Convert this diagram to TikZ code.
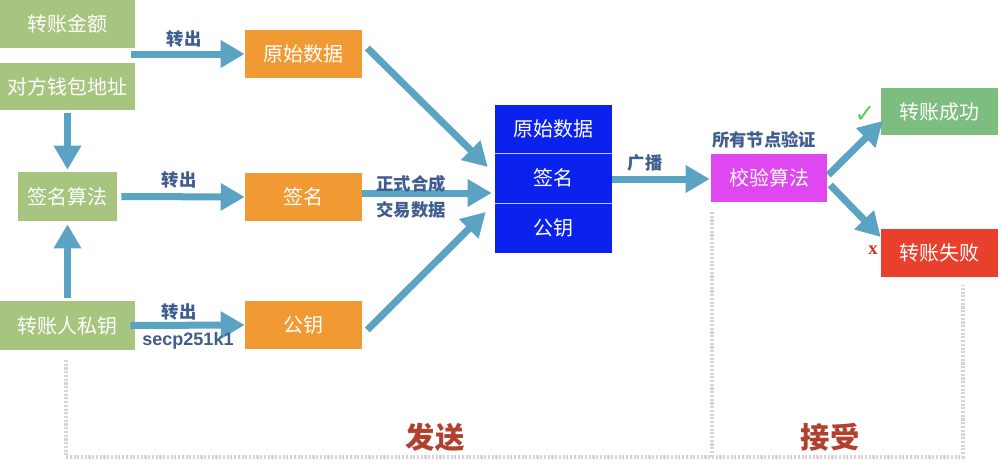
\documentclass[tikz,border=0pt]{standalone}
\usepackage{fontspec}
\setmainfont{Noto Sans CJK SC}
\newfontfamily\lat{Liberation Sans}
\newfontfamily\serifx{Liberation Serif}
\newfontfamily\sym{DejaVu Sans}
\usetikzlibrary{arrows.meta,calc}
\definecolor{gbox}{HTML}{A8C580}
\definecolor{okc}{HTML}{7DBE80}
\definecolor{obox}{HTML}{F19A33}
\definecolor{bbox}{HTML}{0B22EE}
\definecolor{mbox}{HTML}{DF47F0}
\definecolor{rbox}{HTML}{E8402C}
\definecolor{arrc}{HTML}{5AA3C3}
\definecolor{lblc}{HTML}{3F5D8E}
\definecolor{secc}{HTML}{B2402F}
\definecolor{dotc}{HTML}{D6D3DF}
\tikzset{
  box/.style={inner sep=0pt, text=white, font=\fontsize{15}{18}\selectfont},
  gb/.style={box, fill=gbox},
  ob/.style={box, fill=obox},
  bb/.style={box, fill=bbox},
  arr/.style={draw=arrc, line width=5.25pt, -{Triangle[length=18pt,width=19.5pt]}},
  lbl/.style={inner sep=0pt, text=lblc, font=\bfseries\fontsize{13}{15}\selectfont},
  frame/.style={draw=dotc, line width=2.4pt, dash pattern=on 1.6pt off 1.2pt},
}
\begin{document}
\begin{tikzpicture}[x=0.75pt,y=-0.75pt]
\useasboundingbox[fill=white] (0,0) rectangle (1000,468);
% dotted frame
\draw[frame] (66,360) -- (66,457) -- (963,457) -- (963,285);
\draw[frame] (712,212) -- (712,457);
% left boxes
\node[gb, minimum width=135*0.75pt, minimum height=48*0.75pt] (amt) at (67.5,24) {转账金额};
\node[gb, minimum width=135*0.75pt, minimum height=47*0.75pt] (addr) at (67.5,86.5) {对方钱包地址};
\node[gb, minimum width=99*0.75pt, minimum height=49*0.75pt] (alg) at (67.5,196.5) {签名算法};
\node[gb, minimum width=135*0.75pt, minimum height=49*0.75pt] (priv) at (67.5,325.5) {转账人私钥};
% orange boxes
\node[ob, minimum width=117*0.75pt, minimum height=48*0.75pt] (raw) at (303.5,54) {原始数据};
\node[ob, minimum width=117*0.75pt, minimum height=48*0.75pt] (sig) at (303.5,197) {签名};
\node[ob, minimum width=117*0.75pt, minimum height=48*0.75pt] (pub) at (303.5,325) {公钥};
% blue stack
\node[bb, minimum width=117*0.75pt, minimum height=48*0.75pt] (s1) at (553.5,129) {原始数据};
\node[bb, minimum width=117*0.75pt, minimum height=50*0.75pt] (s2) at (553.5,178) {签名};
\node[bb, minimum width=117*0.75pt, minimum height=50*0.75pt] (s3) at (553.5,228) {公钥};
\draw[white!75!bbox, line width=0.6pt] (s1.south west) -- (s1.south east);
\draw[white!75!bbox, line width=0.6pt] (s2.south west) -- (s2.south east);
% right side
\node[box, fill=mbox, minimum width=116*0.75pt, minimum height=48*0.75pt] (ver) at (769,178) {校验算法};
\node[box, fill=okc, minimum width=117*0.75pt, minimum height=47*0.75pt] (ok) at (939.5,111.5) {转账成功};
\node[box, fill=rbox, minimum width=117*0.75pt, minimum height=48*0.75pt] (fail) at (939.5,253) {转账失败};
% arrows
\coordinate (a1) at (131,54);
\draw[arr] (a1) -- (raw.west);
\draw[arr] ($(addr.south)+(0,3)$) -- ($(alg.north)+(0,-2)$);
\draw[arr] ($(priv.north)+(0,-3)$) -- ($(alg.south)+(0,3)$);
\draw[arr] ($(alg.east)+(4,0)$) -- (sig.west);
\draw[arr] ($(priv.east)+(-5,0)$) -- (pub.west);
\draw[arr] ($(raw.east)+(5,-6)$) -- ($(s2.west)+(-7,-11)$);
\draw[arr] ($(sig.east)+(0,-4)$) -- ($(s2.west)+(-3,15)$);
\draw[arr] ($(pub.east)+(5,5)$) -- ($(s3.west)+(-9,-16)$);
\draw[arr] ($(s2.east)+(0,1)$) -- ($(ver.west)+(-1,1)$);
\draw[arr] ($(ver.east)+(1,-3)$) -- ($(ok.west)+(2,9.5)$);
\draw[arr] ($(ver.east)+(3,7)$) -- ($(fail.west)+(0,-16)$);
% labels
\node[lbl] (l1) at (184,39) {转出};
\node[lbl] (l2) at (179,180) {转出};
\node[lbl] (l3) at (179,312) {转出};
\node[inner sep=0pt, text=lblc, font=\lat\bfseries\fontsize{13.5}{15}\selectfont] (l4) at (188,341) {secp251k1};
\node[lbl] (l5) at (411,183.5) {正式合成};
\node[lbl] (l6) at (411,210) {交易数据};
\node[lbl] (l7) at (645,163) {广播};
\node[lbl] (l8) at (764,140) {所有节点验证};
\node[inner sep=0pt, text=okc!75!green, font=\sym\bfseries\fontsize{19}{19}\selectfont] (ck) at (865,115) {✓};
\node[inner sep=0pt, text=rbox!85!black, font=\serifx\bfseries\fontsize{14}{14}\selectfont] (xx) at (873,250) {x};
\node[inner sep=0pt, text=secc, font=\bfseries\fontsize{22}{24}\selectfont] (send) at (435,437) {发送};
\node[inner sep=0pt, text=secc, font=\bfseries\fontsize{22}{24}\selectfont] (recv) at (830,437) {接受};
\end{tikzpicture}
\end{document}
